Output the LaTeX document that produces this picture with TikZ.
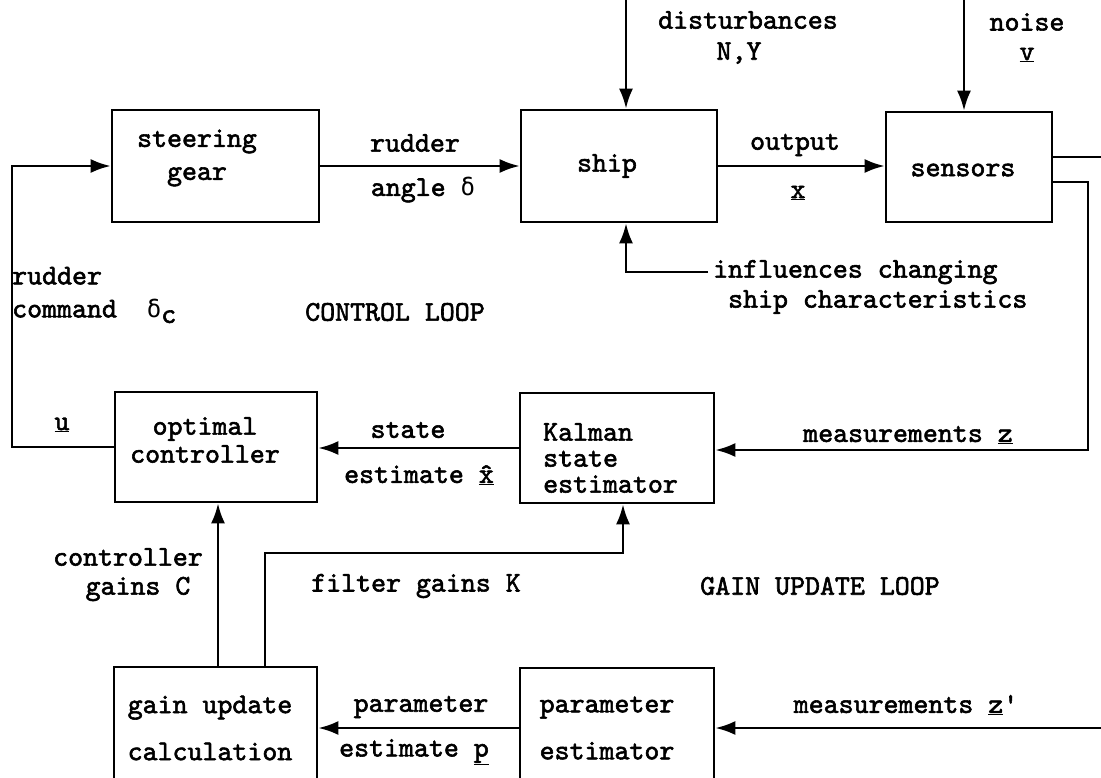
\documentclass[tikz,border=0pt]{standalone}
\usepackage{fontspec}
\newfontfamily\cour{lmmono10-regular.otf}[FakeBold=2]
\newfontfamily\grk{DejaVu Sans Mono}
\newcommand{\dlt}{{\grk\fontsize{24}{33}\selectfont δ}}
\usetikzlibrary{arrows.meta}
\begin{document}
\begin{tikzpicture}[x=1pt,y=-1pt,
  every node/.style={font=\cour\fontsize{28.5}{33}\selectfont, inner sep=0pt},
  box/.style={draw, line width=2.6pt, rectangle},
  conn/.style={line width=2.6pt},
  arr/.style={line width=2.6pt, -{Latex[length=20pt,width=14pt]}}]
\useasboundingbox (0,0) rectangle (1101,778);
\clip (0,0) rectangle (1101,778);
\fill[white] (0,0) rectangle (1101,778);
% boxes
\node[box, minimum width=207pt, minimum height=112pt] (steer) at (215.5,166) {};
\node[box, minimum width=196pt, minimum height=112pt] (ship) at (619,166) {};
\node[box, minimum width=166pt, minimum height=110pt] (sens) at (969,167) {};
\node[box, minimum width=202pt, minimum height=110pt] (opt) at (216,447) {};
\node[box, minimum width=194pt, minimum height=110pt] (kal) at (617,448) {};
\node[box, minimum width=203pt, minimum height=133pt] (gain) at (215.5,733.5) {};
\node[box, minimum width=194pt, minimum height=132pt] (par) at (617,734) {};
% box texts
\node[align=center] (tsteer) at (197,158) {steering\\gear};
\node (tship) at (607,166) {ship};
\node (tsens) at (963,170) {sensors};
\node[align=center, font=\cour\fontsize{28.5}{28}\selectfont] (topt) at (205,440) {optimal\\controller};
\node[align=left, anchor=west, font=\cour\fontsize{28.5}{26}\selectfont] (tkal) at (543,458) {Kalman\\state\\estimator};
\node[align=center, font=\cour\fontsize{28.5}{47}\selectfont] (tgain) at (210,728) {gain update\\calculation};
\node[align=center, font=\cour\fontsize{28.5}{47}\selectfont] (tpar) at (607,728) {parameter\\estimator};
% coordinates for free ends and bends
\coordinate (lc) at (12,447);
\coordinate (dtop) at (626,0);
\coordinate (ntop) at (964,0);
\coordinate (rtop) at (1101,157);
\coordinate (rz) at (1088,450);
\coordinate (rbot) at (1101,728);
\coordinate (fg) at (265,553);
\coordinate (inf) at (708,272);
% connectors
\draw[arr] (opt.west) -- (lc) |- (steer.west);
\draw[arr] (steer.east) -- (ship.west);
\draw[arr] (ship.east) -- (ship.east -| sens.west);
\draw[arr] (dtop) -- (dtop |- ship.north);
\draw[arr] (ntop) -- (ntop |- sens.north);
\draw[conn] ([yshift=10pt]sens.east) -- (rtop);
\draw[arr] ([yshift=-15pt]sens.east) -| (rz) -- (rz -| kal.east);
\draw[arr] (kal.west) -- (kal.west -| opt.east);
\draw[arr] (inf) -| (dtop |- ship.south);
\draw[arr] ([xshift=2.5pt]gain.north) -- ([xshift=2.5pt]gain.north |- opt.south);
\draw[arr] (gain.north -| fg) -- (fg) -| ([xshift=6pt]kal.south);
\draw[arr] (rbot) -- (rbot -| par.east);
\draw[arr] (par.west |- rbot) -- (gain.east |- rbot);
% labels
\node (ldist) at (748,20) {disturbances};
\node (lny) at (739,53) {N,Y};
\node (lnoise) at (1027,22) {noise};
\node (lv) at (1027,55) {\underline{v}};
\node (lrud) at (415,143) {rudder};
\node (lang) at (423,190) {angle \dlt};
\node (lout) at (795,145) {output};
\node (lx) at (798,193) {\underline{x}};
\node[align=left, anchor=west, font=\cour\fontsize{28.5}{30}\selectfont] (linf) at (713,287) {influences changing\\\ ship characteristics};
\node[align=left, anchor=west] (lrc) at (12,295) {rudder\\command\ \ \dlt\raisebox{-0.45ex}{c}};
\node (lcl) at (395,312) {CONTROL LOOP};
\node (lu) at (62,425) {\underline{u}};
\node (lstate) at (408,430) {state};
\node (lest) at (419,475) {estimate \underline{\^{x}}};
\node (lmz) at (908,435) {measurements \underline{z}};
\node (lcon) at (128,557) {controller};
\node (lgc) at (138,589) {gains C};
\node (lfg) at (416,586) {filter gains K};
\node (lgul) at (820,586) {GAIN UPDATE LOOP};
\node (lpar) at (421,707) {parameter};
\node (lestp) at (414,752) {estimate \underline{p}};
\node (lmz2) at (906,705) {measurements \underline{z}\textquotesingle};
\end{tikzpicture}
\end{document}
